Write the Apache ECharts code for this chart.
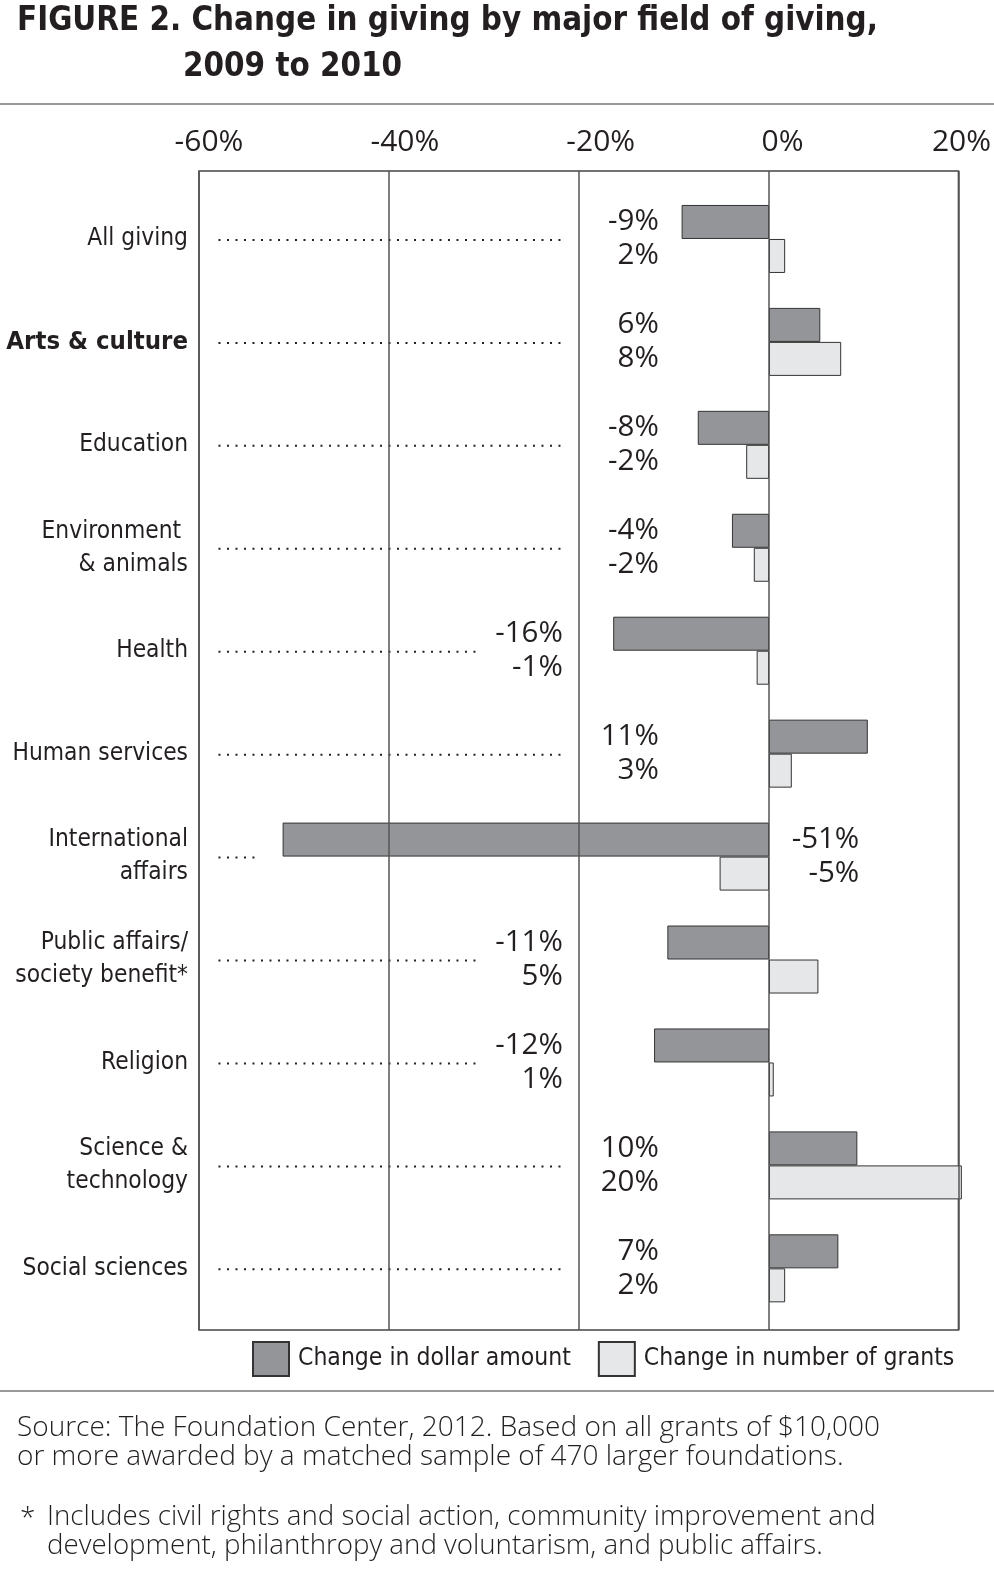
<!DOCTYPE html>
<html>
<head>
<meta charset="utf-8">
<script src="https://cdn.jsdelivr.net/npm/echarts@6/dist/echarts.min.js"></script>
<style>
  html, body { margin: 0; padding: 0; background: #fff; }
  #chart { width: 994px; height: 1580px; }
</style>
</head>
<body>
<div id="chart"></div>
<script>
// ---- data ----
const categories = ['All giving', 'Arts & culture', 'Education', 'Environment \n& animals', 'Health',
  'Human services', 'International\naffairs', 'Public affairs/\nsociety benefit*', 'Religion',
  'Science &\ntechnology', 'Social sciences'];
const dollarChange = [-9.2, 5.4, -7.5, -3.9, -16.4, 10.4, -51.2, -10.7, -12.1, 9.3, 7.3];
const grantsChange = [1.7, 7.6, -2.4, -1.6, -1.3, 2.4, -5.2, 5.2, 0.5, 20.3, 1.7];
const dollarLabels = ['-9%', '6%', '-8%', '-4%', '-16%', '11%', '-51%', '-11%', '-12%', '10%', '7%'];
const grantsLabels = ['2%', '8%', '-2%', '-2%', '-1%', '3%', '-5%', '5%', '1%', '20%', '2%'];
const xTicks = [-60, -40, -20, 0, 20];
const seriesNames = ['Change in dollar amount', 'Change in number of grants'];
const titleLines = ['FIGURE 2. Change in giving by major field of giving,', '2009 to 2010'];
const sourceLines = ['Source: The Foundation Center, 2012. Based on all grants of $10,000',
  'or more awarded by a matched sample of 470 larger foundations.'];
const noteLines = ['Includes civil rights and social action, community improvement and',
  'development, philanthropy and voluntarism, and public affairs.'];

// ---- styling ----
const COND = '"DejaVu Sans Condensed", "Liberation Sans Narrow", "Noto Sans", sans-serif';
const SANS = '"Open Sans", "Noto Sans", sans-serif';
const INK = '#231f20';
const DARK = '#939598';
const LIGHT = '#e6e7e8';
const BORDER = '#333';

const chart = echarts.init(document.getElementById('chart'), null, { renderer: 'canvas' });

const gridLeft = 199, gridRight = 994 - 959;
// per-tick label nudges (left padding, px) as placed in the original layout
const tickPad = { '-60': 20, '-40': 32, '-20': 44, '0': 28, '20': 6 };
const tickRich = {};
xTicks.forEach((t, k) => {
  tickRich['t' + k] = { fontSize: 30, fontFamily: SANS, color: INK, padding: [0, 0, 0, tickPad[String(t)]] };
});

const option = {
  animation: false,
  backgroundColor: '#fff',
  grid: [
    { left: gridLeft, right: gridRight, top: 171, bottom: 1580 - 1330, show: true,
      borderColor: '#444', borderWidth: 1.5, backgroundColor: 'transparent' },
    { left: gridLeft, right: gridRight, top: 187.5, height: 1132.3 }
  ],
  xAxis: [
    { gridIndex: 0, type: 'value', min: xTicks[0], max: xTicks[xTicks.length - 1], interval: 20,
      position: 'top', z: 10,
      axisLine: { show: false }, axisTick: { show: false },
      splitLine: { show: true, lineStyle: { color: '#555', width: 1.5 } },
      axisLabel: {
        margin: 14,
        formatter: v => '{t' + xTicks.indexOf(v) + '|' + v + '%}',
        rich: tickRich
      }
    },
    { gridIndex: 1, type: 'value', min: xTicks[0], max: xTicks[xTicks.length - 1], show: false,
      splitLine: { show: false } }
  ],
  yAxis: [
    { gridIndex: 0, type: 'value', min: 0, max: 1, show: false, splitLine: { show: false } },
    { gridIndex: 1, type: 'category', data: categories, inverse: true,
      axisLine: { show: false }, axisTick: { show: false },
      axisLabel: {
        margin: 11, fontSize: 24.3, lineHeight: 33, fontFamily: COND, color: INK,
        formatter: v => v === 'Arts & culture' ? '{b|' + v + '}' : v,
        rich: { b: { fontSize: 25.5, fontWeight: 'bold', fontFamily: COND, color: INK } }
      }
    }
  ],
  legend: {
    left: 252, top: 1341, padding: 0, itemWidth: 36, itemHeight: 34, itemGap: 27, icon: 'rect',
    selectedMode: false,
    textStyle: { fontSize: 24.5, fontFamily: COND, color: INK, padding: [0, 0, 0, 4] },
    data: seriesNames
  },
  series: [
    { name: seriesNames[0], type: 'bar', xAxisIndex: 1, yAxisIndex: 1, data: dollarChange,
      barWidth: 34, barGap: '0%', clip: false,
      itemStyle: { color: DARK, borderColor: BORDER, borderWidth: 1 } },
    { name: seriesNames[1], type: 'bar', xAxisIndex: 1, yAxisIndex: 1, data: grantsChange,
      barWidth: 34, barGap: '0%', clip: false,
      itemStyle: { color: LIGHT, borderColor: BORDER, borderWidth: 1 } },
    { type: 'custom', xAxisIndex: 1, yAxisIndex: 1, z: 5,
      data: categories.map((c, i) => [0, i]),
      encode: { x: 0, y: 1 },
      renderItem: function (params, api) {
        const i = params.dataIndex;
        const cy = api.coord([0, i])[1];
        const d = dollarChange[i];
        // label column and dotted-leader end (axis units), chosen so labels clear the bars
        let labelX = -11.6, leaderEnd = -21.3;
        if (d < -40) { labelX = 9.5; leaderEnd = -53.8; }
        else if (d < -10) { labelX = -21.7; leaderEnd = -30.5; }
        const x0 = api.coord([-57.95, i])[0];
        const x1 = api.coord([leaderEnd, i])[0];
        const lx = api.coord([labelX, i])[0];
        const half = 17;
        return {
          type: 'group',
          children: [
            { type: 'line', shape: { x1: x0, y1: cy + 1, x2: x1, y2: cy + 1 },
              style: { stroke: INK, lineWidth: 2, lineDash: [2, 6.5] } },
            { type: 'text', style: { text: dollarLabels[i], x: lx, y: cy - half, align: 'right',
              verticalAlign: 'middle', fontSize: 29.5, fontFamily: SANS, fill: INK } },
            { type: 'text', style: { text: grantsLabels[i], x: lx, y: cy + half, align: 'right',
              verticalAlign: 'middle', fontSize: 29.5, fontFamily: SANS, fill: INK } }
          ]
        };
      }
    }
  ],
  graphic: [
    { type: 'text', left: 17, top: 5, style: { text: titleLines[0], fontSize: 32.8, fontWeight: 'bold',
      fontFamily: COND, fill: INK } },
    { type: 'text', left: 183, top: 51, style: { text: titleLines[1], fontSize: 32.8, fontWeight: 'bold',
      fontFamily: COND, fill: INK } },
    { type: 'line', shape: { x1: 0, y1: 104, x2: 994, y2: 104 }, style: { stroke: '#777', lineWidth: 1.5 } },
    { type: 'line', shape: { x1: 0, y1: 1391, x2: 994, y2: 1391 }, style: { stroke: '#777', lineWidth: 1.5 } },
    { type: 'text', left: 17, top: 1414, style: { text: sourceLines.join('\n'), fontSize: 28, lineHeight: 29,
      fontWeight: 300, fontFamily: SANS, fill: INK } },
    { type: 'text', left: 20, top: 1505, style: { text: '*', fontSize: 28, fontWeight: 300, fontFamily: SANS, fill: INK } },
    { type: 'text', left: 47, top: 1503, style: { text: noteLines.join('\n'), fontSize: 27.7, lineHeight: 28.5,
      fontWeight: 300, fontFamily: SANS, fill: INK } }
  ]
};
chart.setOption(option);
</script>
</body>
</html>
